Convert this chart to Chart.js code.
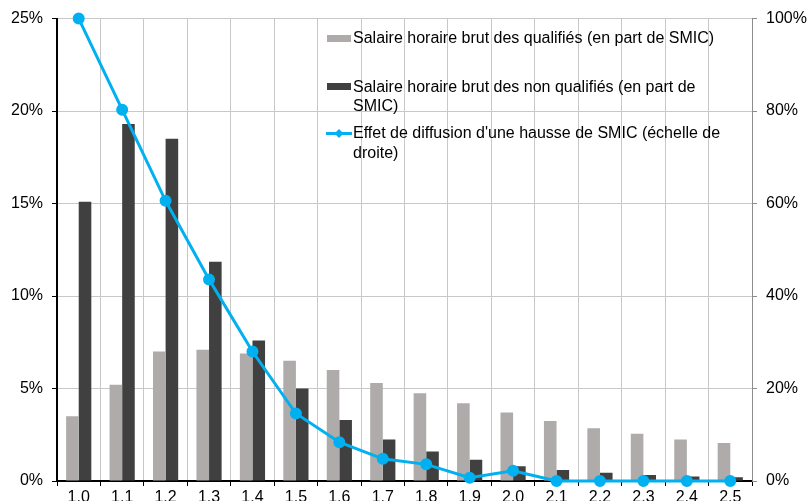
<!DOCTYPE html>
<html>
<head>
<meta charset="utf-8">
<script src="https://cdn.jsdelivr.net/npm/chart.js@4"></script>
<style>
  html, body { margin: 0; padding: 0; background: #fff; }
  #wrap { width: 808px; height: 501px; }
</style>
</head>
<body>
<div id="wrap"><canvas id="smicChart" width="808" height="501"></canvas></div>
<script>
// categories (salaire en part de SMIC)
const categories = ['1.0', '1.1', '1.2', '1.3', '1.4', '1.5', '1.6', '1.7', '1.8', '1.9', '2.0', '2.1', '2.2', '2.3', '2.4', '2.5'];

// left scale, %
const qualifies = [3.5, 5.2, 7.0, 7.1, 6.9, 6.5, 6.0, 5.3, 4.75, 4.2, 3.7, 3.25, 2.85, 2.55, 2.25, 2.05];
const nonQualifies = [15.1, 19.3, 18.5, 11.85, 7.6, 5.0, 3.3, 2.25, 1.6, 1.15, 0.8, 0.6, 0.45, 0.32, 0.25, 0.2];

// right scale, %
const diffusion = [100, 80.3, 60.6, 43.6, 28.0, 14.6, 8.4, 4.8, 3.6, 0.7, 2.2, 0, 0, 0, 0, 0];

const legendLabels = [
  ['Salaire horaire brut des qualifiés (en part de SMIC)'],
  ['Salaire horaire brut des non qualifiés (en part de', 'SMIC)'],
  ["Effet de diffusion d'une hausse de SMIC (échelle de", 'droite)']
];

const GRAY = '#aeabaa';
const DARK = '#404040';
const BLUE = '#00b0f0';
const FONT = { family: '"Liberation Sans", Arial, sans-serif', size: 16 };

// legend drawn inside the plot, top right
const insideLegend = {
  id: 'insideLegend',
  afterDraw(chart) {
    const ctx = chart.ctx;
    ctx.save();
    ctx.font = '16px "Liberation Sans", Arial, sans-serif';
    ctx.textBaseline = 'middle';
    const tx = 353;
    const rows = [39, 87.5, 134];

    ctx.fillStyle = GRAY;
    ctx.fillRect(327, 35, 24, 7);
    ctx.fillStyle = DARK;
    ctx.fillRect(327, 83, 24, 7);

    ctx.strokeStyle = BLUE;
    ctx.lineWidth = 3;
    ctx.beginPath();
    ctx.moveTo(326, 133.5);
    ctx.lineTo(352, 133.5);
    ctx.stroke();
    ctx.fillStyle = BLUE;
    ctx.beginPath();
    ctx.moveTo(339, 129);
    ctx.lineTo(343.5, 133.5);
    ctx.lineTo(339, 138);
    ctx.lineTo(334.5, 133.5);
    ctx.closePath();
    ctx.fill();

    ctx.fillStyle = '#000';
    legendLabels.forEach((lines, i) => {
      lines.forEach((t, j) => ctx.fillText(t, tx, rows[i] + j * 19.5));
    });
    ctx.restore();
  }
};

new Chart(document.getElementById('smicChart'), {
  type: 'bar',
  data: {
    labels: categories,
    datasets: [
      {
        type: 'line',
        label: legendLabels[2].join(' '),
        data: diffusion,
        yAxisID: 'y2',
        borderColor: BLUE,
        backgroundColor: BLUE,
        borderWidth: 3,
        pointRadius: 4.5,
        pointHoverRadius: 4.5,
        pointStyle: 'circle',
        tension: 0,
        clip: false,
        order: 0
      },
      {
        label: legendLabels[0].join(' '),
        data: qualifies,
        yAxisID: 'y',
        backgroundColor: GRAY,
        categoryPercentage: 0.58,
        barPercentage: 1.0,
        order: 1
      },
      {
        label: legendLabels[1].join(' '),
        data: nonQualifies,
        yAxisID: 'y',
        backgroundColor: DARK,
        categoryPercentage: 0.58,
        barPercentage: 1.0,
        order: 1
      }
    ]
  },
  options: {
    responsive: false,
    animation: false,
    layout: { padding: { top: 18, left: 0, right: 0, bottom: 0 } },
    plugins: {
      legend: { display: false },
      tooltip: { enabled: false }
    },
    scales: {
      x: {
        offset: true,
        grid: { offset: true, color: '#c8c8c8', tickColor: '#000', tickLength: 5 },
        border: { color: '#000', width: 2 },
        ticks: { color: '#000', font: FONT, padding: 2, maxRotation: 0 },
        afterFit: s => { s.height = 20; }
      },
      y: {
        position: 'left',
        min: 0,
        max: 25,
        grid: { color: '#c8c8c8', tickColor: '#000', tickLength: 5 },
        border: { color: '#000', width: 2 },
        ticks: { stepSize: 5, color: '#000', font: FONT, padding: 9, callback: v => v + '%' },
        afterFit: s => { s.width = 57; }
      },
      y2: {
        position: 'right',
        min: 0,
        max: 100,
        grid: { drawOnChartArea: false, color: '#8c8c8c', tickLength: 5 },
        border: { color: '#8c8c8c', width: 1 },
        ticks: { stepSize: 20, color: '#000', font: FONT, padding: 9, callback: v => v + '%' },
        afterFit: s => { s.width = 56; }
      }
    }
  },
  plugins: [insideLegend]
});
</script>
</body>
</html>
